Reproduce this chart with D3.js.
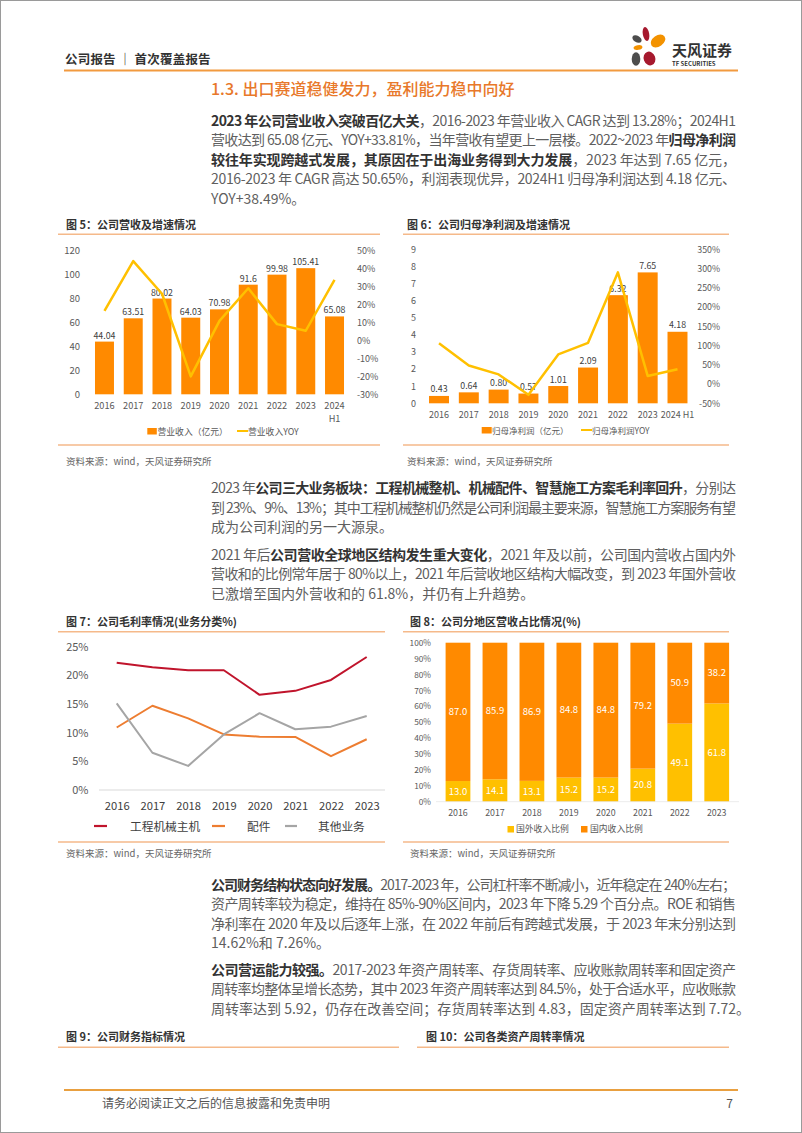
<!DOCTYPE html>
<html><head><meta charset="utf-8">
<script src="https://cdn.jsdelivr.net/npm/d3@7"></script>
<style>body{margin:0;background:#fff} svg{display:block}</style>
</head><body><script>
// ---------- DATA ----------
const years5 = ["2016","2017","2018","2019","2020","2021","2022","2023","2024\nH1"];
const revenue5 = [44.04,63.51,80.02,64.03,70.98,91.6,99.98,105.41,65.08];
const revenueLabels5 = ["44.04","63.51","80.02","64.03","70.98","91.6","99.98","105.41","65.08"];
const revenueYoy5 = [16.5,44.2,26.0,-20.0,10.9,29.1,9.1,5.4,33.8];
const revTicksL = [0,20,40,60,80,100,120];
const revTicksR = [-30,-20,-10,0,10,20,30,40,50];

const years6 = ["2016","2017","2018","2019","2020","2021","2022","2023","2024 H1"];
const profit6 = [0.43,0.64,0.80,0.57,1.01,2.09,6.32,7.65,4.18];
const profitLabels6 = ["0.43","0.64","0.80","0.57","1.01","2.09","6.32","7.65","4.18"];
const profitYoy6 = [106,48,25,-28,77,107,290,21,38.5];
const profitTicksL = [0,1,2,3,4,5,6,7,8,9];
const profitTicksR = [-50,0,50,100,150,200,250,300,350];

const years7 = ["2016","2017","2018","2019","2020","2021","2022","2023"];
const marginMain = [22.2,21.4,20.9,20.9,16.6,17.3,19.2,23.2];
const marginParts = [10.9,14.7,12.5,9.7,9.3,9.25,5.9,8.85];
const marginOther = [15.1,6.5,4.2,9.7,13.4,10.6,11.05,12.9];
const marginTicks = [0,5,10,15,20,25];
const marginSeries = ["工程机械主机","配件","其他业务"];

const years8 = ["2016","2017","2018","2019","2020","2021","2022","2023"];
const foreignShare = [13.0,14.1,13.1,15.2,15.2,20.8,49.1,61.8];
const domesticShare = [87.0,85.9,86.9,84.8,84.8,79.2,50.9,38.2];
const shareTicks = [0,10,20,30,40,50,60,70,80,90,100];

// ---------- SETUP ----------
const FONT = '"Noto Sans CJK SC","Noto Sans",sans-serif';
const ORANGE = "#FF8A00", YELLOW = "#FFC000";
const svg = d3.select("body").append("svg").attr("width",802).attr("height",1133)
  .attr("font-family",FONT);
svg.append("rect").attr("x",0.5).attr("y",0.5).attr("width",801).attr("height",1132)
  .attr("fill","#fff").attr("stroke","#9a9a9a");

function txt(x,y,s,size,fill,opts={}){
  const t = svg.append("text").attr("x",x).attr("y",y).attr("font-size",size).attr("fill",fill).text(s);
  if(opts.bold) t.attr("font-weight",700);
  if(opts.anchor) t.attr("text-anchor",opts.anchor);
  if(opts.weight) t.attr("font-weight",opts.weight);
  return t;
}
function hline(x1,x2,y,color,w){
  svg.append("line").attr("x1",x1).attr("x2",x2).attr("y1",y).attr("y2",y).attr("stroke",color).attr("stroke-width",w);
}
function styleAxis(g,size,color){
  g.attr("font-family",FONT).attr("font-size",size);
  g.select(".domain").remove();
  g.selectAll(".tick line").remove();
  g.selectAll("text").attr("fill",color);
}

// ---------- HEADER ----------
txt(65,63.5,"公司报告 ｜ 首次覆盖报告",12.5,"#333",{bold:true}).attr("letter-spacing",0.2);
hline(64,738,70.5,"#F29A3F",2);
// logo
const logo = svg.append("g");
[[646,34,3.2,7,-10,"#A6192E"],[637,39,5,3.3,30,"#4D4D4D"],[658,41,8,5.5,-35,"#F39200"],
 [638,47.5,4.5,2.4,-10,"#F39200"],[636,59,4.3,6.8,0,"#4D4D4D"],[649.5,58.5,5.8,7,-20,"#A6192E"]]
 .forEach(p=>logo.append("ellipse").attr("cx",p[0]).attr("cy",p[1]).attr("rx",p[2]).attr("ry",p[3])
   .attr("transform",`rotate(${p[4]},${p[0]},${p[1]})`).attr("fill",p[5]));
txt(672,55.5,"天风证券",15,"#333",{bold:true});
txt(672,66,"TF SECURITIES",6,"#333",{bold:true});

// section title
txt(211,95,"1.3. 出口赛道稳健发力，盈利能力稳中向好",16,"#E8782A",{weight:500});

// ---------- PARAGRAPHS ----------
function para(lines,y0,dy){
  lines.forEach((ln,i)=>{
    const t = svg.append("text").attr("x",211).attr("y",y0+i*dy).attr("font-size",14);
    ln.split("**").forEach((s,k)=>{ if(!s) return;
      t.append("tspan").text(s).attr("font-weight",k%2?700:400).attr("fill",k%2?"#333":"#5f5f5f"); });
    if(i<lines.length-1){
      const w = t.node().getComputedTextLength();
      const n = ln.replace(/\*\*/g,"").length;
      t.attr("letter-spacing",(525-w)/(n-1));
    }
  });
}
para(["**2023 年公司营业收入突破百亿大关**，2016-2023 年营业收入 CAGR 达到 13.28%；2024H1",
      "营收达到 65.08 亿元、YOY+33.81%，当年营收有望更上一层楼。2022~2023 年**归母净利润**",
      "**较往年实现跨越式发展，其原因在于出海业务得到大力发展**，2023 年达到 7.65 亿元，",
      "2016-2023 年 CAGR 高达 50.65%，利润表现优异，2024H1 归母净利润达到 4.18 亿元、",
      "YOY+38.49%。"],125.5,19.5);
para(["2023 年**公司三大业务板块：工程机械整机、机械配件、智慧施工方案毛利率回升**，分别达",
      "到 23%、9%、13%；其中工程机械整机仍然是公司利润最主要来源，智慧施工方案服务有望",
      "成为公司利润的另一大源泉。"],493,19.5);
para(["2021 年后**公司营收全球地区结构发生重大变化**，2021 年及以前，公司国内营收占国内外",
      "营收和的比例常年居于 80%以上，2021 年后营收地区结构大幅改变，到 2023 年国外营收",
      "已激增至国内外营收和的 61.8%，并仍有上升趋势。"],559.5,19.5);
para(["**公司财务结构状态向好发展。**2017-2023 年，公司杠杆率不断减小，近年稳定在 240%左右；",
      "资产周转率较为稳定，维持在 85%-90%区间内，2023 年下降 5.29 个百分点。ROE 和销售",
      "净利率在 2020 年及以后逐年上涨，在 2022 年前后有跨越式发展，于 2023 年末分别达到",
      "14.62%和 7.26%。"],890,19.3);
para(["**公司营运能力较强。**2017-2023 年资产周转率、存货周转率、应收账款周转率和固定资产",
      "周转率均整体呈增长态势，其中 2023 年资产周转率达到 84.5%，处于合适水平，应收账款",
      "周转率达到 5.92，仍存在改善空间；存货周转率达到 4.83，固定资产周转率达到 7.72。"],975,19.3);

// chart frames
const LINEC = "#F5B98A";
txt(66,229,"图 5：公司营收及增速情况",11,"#333",{bold:true}); hline(58,380,234.3,LINEC,1.5); hline(58,380,445,LINEC,1.5);
txt(407,229,"图 6：公司归母净利润及增速情况",11,"#333",{bold:true}); hline(403,729,234.3,LINEC,1.5); hline(403,729,445,LINEC,1.5);
txt(66,465,"资料来源：wind，天风证券研究所",9.5,"#666"); txt(407,465,"资料来源：wind，天风证券研究所",9.5,"#666");
txt(66,626,"图 7：公司毛利率情况(业务分类%)",11,"#333",{bold:true}); hline(58,385,631.7,LINEC,1.5); hline(58,385,842,LINEC,1.5);
txt(410,626,"图 8：公司分地区营收占比情况(%)",11,"#333",{bold:true}); hline(403,729,631.7,LINEC,1.5); hline(403,729,842,LINEC,1.5);
txt(66,857,"资料来源：wind，天风证券研究所",9.5,"#666"); txt(410,857,"资料来源：wind，天风证券研究所",9.5,"#666");
txt(66,1041,"图 9：公司财务指标情况",11,"#333",{bold:true}); hline(58,399,1047.3,LINEC,1.5);
txt(426,1041,"图 10：公司各类资产周转率情况",11,"#333",{bold:true}); hline(417,729,1047.3,LINEC,1.5);

// footer
hline(64,738,1090,"#E9A040",2);
txt(102,1108,"请务必阅读正文之后的信息披露和免责申明",12,"#555");
txt(733,1108,"7",12,"#555",{anchor:"end"});

// ---------- CHART 5 ----------
{
  const x = d3.scaleBand().domain(years5).range([90.1,348.9]).paddingInner(0.34).paddingOuter(0.17);
  const y = d3.scaleLinear().domain([0,120]).range([394.3,250.7]);
  const yr = d3.scaleLinear().domain([-30,50]).range([394.3,250.7]);
  const g = svg.append("g");
  g.selectAll("rect").data(revenue5).join("rect").attr("x",(d,i)=>x(years5[i])).attr("width",x.bandwidth())
    .attr("y",d=>y(d)).attr("height",d=>y(0)-y(d)).attr("fill",ORANGE);
  g.selectAll(".vl").data(revenue5).join("text").attr("class","vl").attr("x",(d,i)=>x(years5[i])+x.bandwidth()/2)
    .attr("y",d=>y(d)-3).attr("text-anchor","middle").attr("font-size",8.8).attr("fill","#404040")
    .text((d,i)=>revenueLabels5[i]);
  const gl = svg.append("g").attr("transform","translate(80,0)").call(d3.axisLeft(y).tickValues(revTicksL).tickSize(0).tickPadding(0));
  styleAxis(gl,9.5,"#595959");
  const gr = svg.append("g").attr("transform","translate(357,0)").call(d3.axisRight(yr).tickValues(revTicksR).tickSize(0).tickPadding(0).tickFormat(d=>d+"%"));
  styleAxis(gr,9,"#595959");
  const gx = svg.append("g").attr("transform","translate(0,394.3)").call(d3.axisBottom(x).tickSize(0).tickPadding(0));
  styleAxis(gx,9.2,"#595959");
  gx.selectAll("text").each(function(d){ const t=d3.select(this); t.text(null).attr("dy",null).attr("y",null);
    d.split("\n").forEach((l,i)=>t.append("tspan").attr("x",0).attr("y",14.3+i*13.6).text(l)); });
  svg.append("path").datum(revenueYoy5).attr("fill","none").attr("stroke",YELLOW).attr("stroke-width",2.5)
    .attr("stroke-linejoin","round")
    .attr("d",d3.line().x((d,i)=>x(years5[i])+x.bandwidth()/2).y(d=>yr(d)));
  svg.append("rect").attr("x",147.3).attr("y",428).attr("width",9.5).attr("height",6.5).attr("fill",ORANGE);
  txt(157.5,434.5,"营业收入（亿元）",8.8,"#595959");
  hline(237,248,431,YELLOW,2);
  txt(248,434.5,"营业收入YOY",8.8,"#595959");
}

// ---------- CHART 6 ----------
{
  const x = d3.scaleBand().domain(years6).range([424.1,692.4]).paddingInner(0.33).paddingOuter(0.165);
  const y = d3.scaleLinear().domain([0,9]).range([403.3,249.3]);
  const yr = d3.scaleLinear().domain([-50,350]).range([403.3,249.3]);
  const g = svg.append("g");
  g.selectAll("rect").data(profit6).join("rect").attr("x",(d,i)=>x(years6[i])).attr("width",x.bandwidth())
    .attr("y",d=>y(d)).attr("height",d=>y(0)-y(d)).attr("fill",ORANGE);
  g.selectAll(".vl").data(profit6).join("text").attr("class","vl").attr("x",(d,i)=>x(years6[i])+x.bandwidth()/2)
    .attr("y",d=>y(d)-3.5).attr("text-anchor","middle").attr("font-size",8.8).attr("fill","#404040")
    .text((d,i)=>profitLabels6[i]);
  const gl = svg.append("g").attr("transform","translate(416,0)").call(d3.axisLeft(y).tickValues(profitTicksL).tickSize(0).tickPadding(0));
  styleAxis(gl,9,"#595959");
  const gr = svg.append("g").attr("transform","translate(720,0)").call(d3.axisRight(yr).tickValues(profitTicksR).tickSize(0).tickPadding(0).tickFormat(d=>d+"%"));
  styleAxis(gr,8.8,"#595959"); gr.selectAll("text").attr("text-anchor","end");
  const gx = svg.append("g").attr("transform","translate(0,403.3)").call(d3.axisBottom(x).tickSize(0).tickPadding(0));
  styleAxis(gx,9,"#595959");
  gx.selectAll("text").attr("dy",null).attr("y",14.8);
  svg.append("path").datum(profitYoy6).attr("fill","none").attr("stroke",YELLOW).attr("stroke-width",2.5)
    .attr("stroke-linejoin","round")
    .attr("d",d3.line().x((d,i)=>x(years6[i])+x.bandwidth()/2).y(d=>yr(d)));
  svg.append("rect").attr("x",481.7).attr("y",427).attr("width",10).attr("height",6.5).attr("fill",ORANGE);
  txt(492,433.5,"归母净利润（亿元）",8.5,"#595959");
  hline(581,592,430,YELLOW,2);
  txt(592,433.5,"归母净利润YOY",8.5,"#595959");
}

// ---------- CHART 7 ----------
{
  const x = d3.scalePoint().domain(years7).range([116.7,366.7]);
  const y = d3.scaleLinear().domain([0,25]).range([790,646.7]);
  hline(99,385,790,"#D9D9D9",1);
  const gl = svg.append("g").attr("transform","translate(88.5,0)").call(d3.axisLeft(y).tickValues(marginTicks).tickSize(0).tickPadding(0).tickFormat(d=>d+"%"));
  styleAxis(gl,11,"#595959");
  const gx = svg.append("g").attr("transform","translate(0,790)").call(d3.axisBottom(x).tickSize(0).tickPadding(0));
  styleAxis(gx,11.2,"#404040"); gx.selectAll("text").attr("dy",null).attr("y",20);
  const colors = ["#C0142C","#ED7D31","#A5A5A5"];
  [marginMain,marginParts,marginOther].forEach((s,k)=>{
    svg.append("path").datum(s).attr("fill","none").attr("stroke",colors[k]).attr("stroke-width",2)
      .attr("stroke-linejoin","round")
      .attr("d",d3.line().x((d,i)=>x(years7[i])).y(d=>y(d)));
  });
  const lx = [[94,107,130],[212,225,247],[285,297,318]];
  marginSeries.forEach((s,k)=>{ hline(lx[k][0],lx[k][1],826,colors[k],2.2); txt(lx[k][2],830.5,s,11.7,"#404040"); });
}

// ---------- CHART 8 ----------
{
  const x = d3.scaleBand().domain(years8).range([439.5,735.2]).paddingInner(0.33).paddingOuter(0.165);
  const y = d3.scaleLinear().domain([0,100]).range([801.7,642.7]);
  const g = svg.append("g");
  g.selectAll(".f").data(foreignShare).join("rect").attr("class","f").attr("x",(d,i)=>x(years8[i])).attr("width",x.bandwidth())
    .attr("y",d=>y(d)).attr("height",d=>y(0)-y(d)).attr("fill",YELLOW);
  g.selectAll(".d").data(domesticShare).join("rect").attr("class","d").attr("x",(d,i)=>x(years8[i])).attr("width",x.bandwidth())
    .attr("y",(d,i)=>y(foreignShare[i]+d)).attr("height",(d,i)=>y(foreignShare[i])-y(foreignShare[i]+d)).attr("fill",ORANGE);
  g.selectAll(".fl").data(foreignShare).join("text").attr("class","fl").attr("x",(d,i)=>x(years8[i])+x.bandwidth()/2)
    .attr("y",d=>y(d/2)+3.3).attr("text-anchor","middle").attr("font-size",9.5).attr("fill","#fff").text(d=>d.toFixed(1));
  g.selectAll(".dl").data(domesticShare).join("text").attr("class","dl").attr("x",(d,i)=>x(years8[i])+x.bandwidth()/2)
    .attr("y",(d,i)=>y(foreignShare[i]+d/2)+3.3).attr("text-anchor","middle").attr("font-size",9.5).attr("fill","#fff").text(d=>d.toFixed(1));
  hline(436,739,801.7,"#E6E6E6",0.8);
  const gl = svg.append("g").attr("transform","translate(431,0)").call(d3.axisLeft(y).tickValues(shareTicks).tickSize(0).tickPadding(0).tickFormat(d=>d+"%"));
  styleAxis(gl,8.3,"#595959");
  const gx = svg.append("g").attr("transform","translate(0,801.7)").call(d3.axisBottom(x).tickSize(0).tickPadding(0));
  styleAxis(gx,8.8,"#595959"); gx.selectAll("text").attr("dy",null).attr("y",14.8);
  svg.append("rect").attr("x",507.5).attr("y",826).attr("width",6.5).attr("height",6.5).attr("fill",YELLOW);
  txt(516,832.3,"国外收入比例",8.8,"#595959");
  svg.append("rect").attr("x",581).attr("y",826).attr("width",6.5).attr("height",6.5).attr("fill",ORANGE);
  txt(590,832.3,"国内收入比例",8.8,"#595959");
}
</script></body></html>
